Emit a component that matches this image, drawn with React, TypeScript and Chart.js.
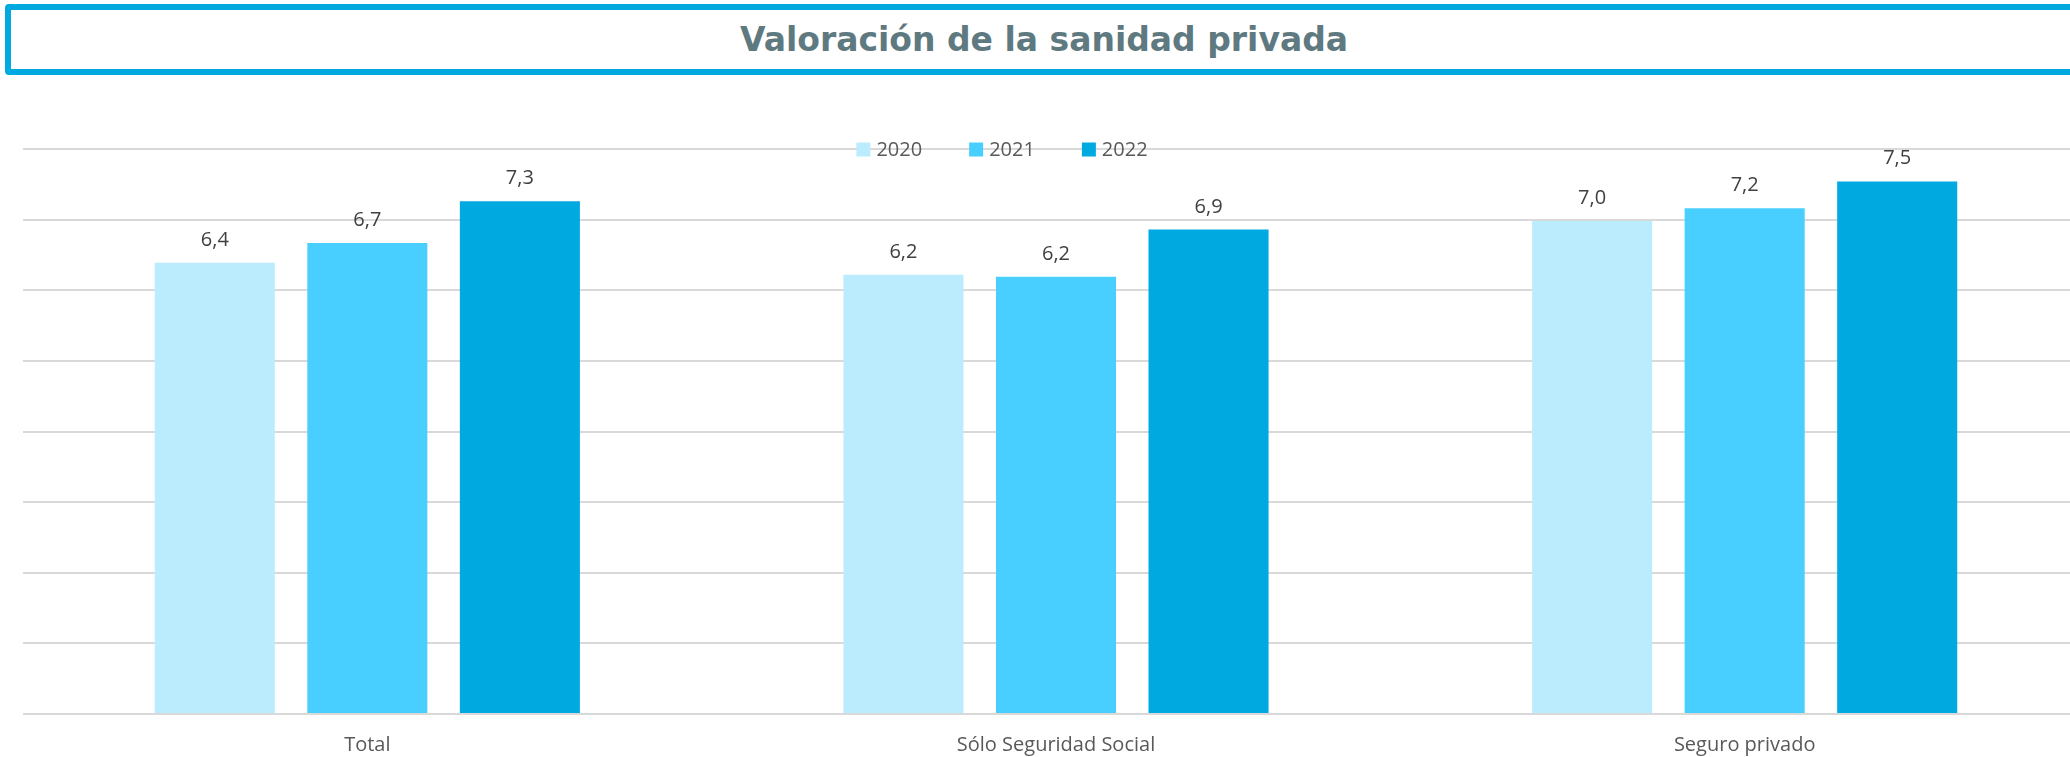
import React, { useEffect, useRef } from "react";
import { Chart, registerables } from "chart.js";

Chart.register(...registerables);

const TITLE = "Valoración de la sanidad privada";
const categories = ["Total", "Sólo Seguridad Social", "Seguro privado"];
const seriesLabels = ["2020", "2021", "2022"];
const values2020 = [6.39, 6.22, 6.98];
const values2021 = [6.67, 6.19, 7.16];
const values2022 = [7.26, 6.86, 7.54];
const seriesColors = ["#BBECFE", "#48CFFF", "#00A9E0"];
const yTicks = [0, 1, 2, 3, 4, 5, 6, 7, 8];

const fmt = (v: number) => v.toFixed(1).replace(".", ",");

const dataLabelsPlugin = {
  id: "dataLabelsCustom",
  afterDatasetsDraw(chart: any) {
    const ctx = chart.ctx;
    ctx.save();
    ctx.font = "20px 'Open Sans'";
    ctx.fillStyle = "#404040";
    ctx.textAlign = "center";
    ctx.textBaseline = "alphabetic";
    chart.data.datasets.forEach((ds: any, di: number) => {
      const meta = chart.getDatasetMeta(di);
      meta.data.forEach((el: any, i: number) => {
        ctx.fillText(fmt(ds.data[i]), el.x, el.y - 17);
      });
    });
    ctx.restore();
  },
};

const legendPlugin = {
  id: "legendCustom",
  afterDraw(chart: any, _args: any, opts: any) {
    const ctx = chart.ctx;
    ctx.save();
    ctx.font = "20px 'Open Sans'";
    ctx.textBaseline = "middle";
    ctx.textAlign = "left";
    const box = 14;
    const gap = 6;
    const itemGap = 47;
    const items = chart.data.datasets.map((ds: any) => ({
      label: ds.label,
      color: ds.backgroundColor,
      w: box + gap + ctx.measureText(ds.label).width,
    }));
    const total = items.reduce((s: number, it: any) => s + it.w, 0) + itemGap * (items.length - 1);
    let x = opts.centerX - total / 2;
    const cy = opts.centerY;
    items.forEach((it: any) => {
      ctx.fillStyle = it.color;
      ctx.fillRect(x, cy - box / 2, box, box);
      ctx.fillStyle = "#595959";
      ctx.fillText(it.label, x + box + gap, cy + 1);
      x += it.w + itemGap;
    });
    ctx.restore();
  },
};

function ChartCanvas() {
  const ref = useRef<HTMLCanvasElement | null>(null);
  useEffect(() => {
    if (!ref.current) return;
    const chart = new Chart(ref.current, {
      type: "bar",
      data: {
        labels: categories,
        datasets: [
          { label: seriesLabels[0], data: values2020, backgroundColor: seriesColors[0] },
          { label: seriesLabels[1], data: values2021, backgroundColor: seriesColors[1] },
          { label: seriesLabels[2], data: values2022, backgroundColor: seriesColors[2] },
        ],
      },
      options: {
        animation: false,
        responsive: false,
        maintainAspectRatio: false,
        events: [],
        layout: { padding: { top: 149, left: 23, right: 11, bottom: 2 } },
        datasets: {
          bar: { categoryPercentage: 0.6645, barPercentage: 0.787 },
        },
        plugins: {
          legend: { display: false },
          title: { display: false },
          tooltip: { enabled: false },
          legendCustom: { centerX: 1002, centerY: 149.5 },
        } as any,
        scales: {
          x: {
            grid: { display: false, drawTicks: false },
            border: { display: false },
            ticks: { color: "#595959", font: { family: "'Open Sans'", size: 20 }, padding: 19 },
          },
          y: {
            min: 0,
            max: 8,
            afterBuildTicks: (axis: any) => {
              axis.ticks = yTicks.map((v) => ({ value: v }));
            },
            grid: { color: "#D9D9D9", lineWidth: 2, drawTicks: false },
            border: { display: false },
            ticks: { display: false },
          },
        },
      },
      plugins: [dataLabelsPlugin, legendPlugin],
    });
    return () => chart.destroy();
  }, []);
  return <canvas ref={ref} width={2100} height={778} style={{ position: "absolute", left: 0, top: 0, width: 2100, height: 778 }} />;
}

export default function App() {
  return (
    <div style={{ position: "fixed", left: 0, top: 0, width: 2070, height: 757, overflow: "hidden", background: "#fff" }}>
      <ChartCanvas />
      <div
        style={{
          position: "absolute",
          left: 5,
          top: 4,
          width: 2078,
          height: 71,
          boxSizing: "border-box",
          border: "6px solid #00A9E0",
          borderRadius: 4,
          display: "flex",
          alignItems: "center",
          justifyContent: "center",
          background: "#fff",
        }}
      >
        <span style={{ fontFamily: "'DejaVu Sans', sans-serif", fontWeight: 700, fontSize: 33, color: "#5E7A80" }}>
          {TITLE}
        </span>
      </div>
    </div>
  );
}
